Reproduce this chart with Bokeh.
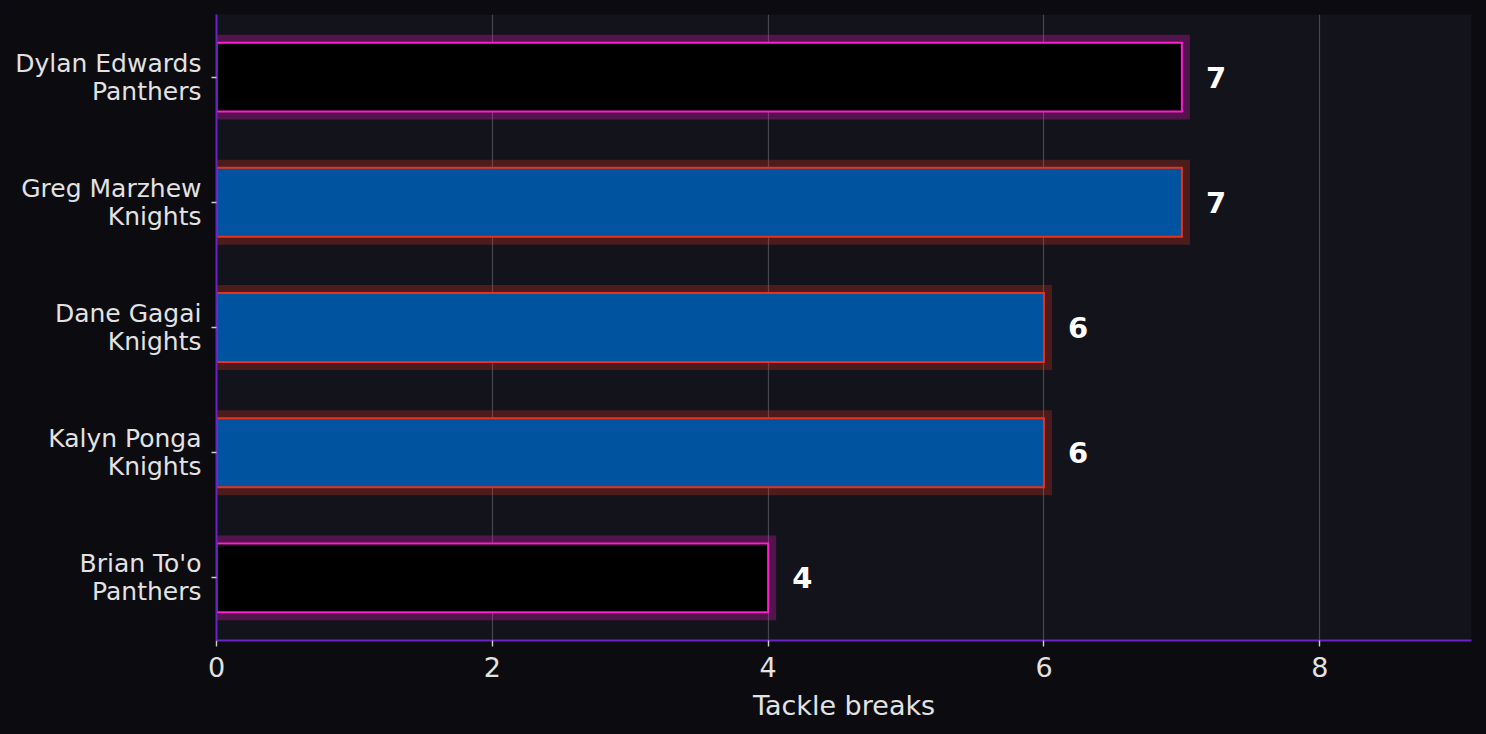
from bokeh.plotting import figure
from bokeh.models import Range1d, FactorRange, SingleIntervalTicker, ColumnDataSource
from bokeh.core.properties import value
from bokeh.embed import file_html
from bokeh.resources import INLINE

players = ["Dylan Edwards", "Greg Marzhew", "Dane Gagai", "Kalyn Ponga", "Brian To'o"]
teams = ["Panthers", "Knights", "Knights", "Knights", "Panthers"]
tackle_breaks = [7, 7, 6, 6, 4]

team_fill = {"Panthers": "#000000", "Knights": "#00539f"}
team_line = {"Panthers": "#ff1dd0", "Knights": "#e8321e"}

labels = [f"{p}\n{t}" for p, t in zip(players, teams)]
src = ColumnDataSource(dict(
    y=labels,
    x=tackle_breaks,
    txt=[str(v) for v in tackle_breaks],
    fill=[team_fill[t] for t in teams],
    line=[team_line[t] for t in teams],
))

FONT = "DejaVu Sans"
BG = "#0c0b10"

p = figure(
    y_range=FactorRange(factors=list(reversed(labels)), range_padding=0),
    x_range=Range1d(0, 9.1),
    frame_width=1255, frame_height=626,
    min_border_left=216, min_border_top=14, min_border_right=15, min_border_bottom=94,
    output_backend="svg", toolbar_location=None,
    background_fill_color="#13131b", border_fill_color=BG,
)
p.outline_line_color = None

# glow
p.hbar(y="y", right="x", left=0, height=0.55, source=src, fill_color=None,
       line_color="line", line_alpha=0.27, line_width=16, line_join="miter")
# bars
p.hbar(y="y", right="x", left=0, height=0.55, source=src, fill_color="fill",
       line_color="line", line_width=2, line_join="miter")

p.text(x="x", y="y", text="txt", source=src, x_offset=24,
       text_font=value(FONT), text_font_style="bold", text_font_size="29px",
       text_color="#ffffff", text_baseline="middle", text_align="left")

p.xgrid.ticker = SingleIntervalTicker(interval=2)
p.xaxis.ticker = SingleIntervalTicker(interval=2)
p.xgrid.grid_line_color = "#46464e"
p.xgrid.grid_line_width = 1.2
p.ygrid.grid_line_color = None

for ax in (p.xaxis[0], p.yaxis[0]):
    ax.axis_line_color = "#6a22c8"
    ax.axis_line_width = 2
    ax.major_tick_line_color = "#cccccc"
    ax.major_tick_line_width = 1.4
    ax.major_tick_out = 6
    ax.major_tick_in = 0
    ax.minor_tick_line_color = None
    ax.major_label_text_font = FONT
    ax.major_label_text_color = "#e2e2e2"
    ax.axis_label_text_font = FONT
    ax.axis_label_text_color = "#e2e2e2"
    ax.axis_label_text_font_style = "normal"

p.yaxis.major_tick_out = 5
p.yaxis.major_label_text_font_size = "25px"
p.yaxis.major_label_text_line_height = 0.96
p.yaxis.major_label_standoff = 10
p.xaxis.major_label_text_font_size = "27px"
p.xaxis.major_label_standoff = 10
p.xaxis.axis_label = "Tackle breaks"
p.xaxis.axis_label_text_font_size = "27px"
p.xaxis.axis_label_standoff = 10

html = file_html(p, INLINE)
style = f"<style>html, body {{ background: {BG}; margin: 0; padding: 0; }}</style>"
html = html.replace("</head>", style + "</head>", 1)
open("out.html", "w").write(html)
